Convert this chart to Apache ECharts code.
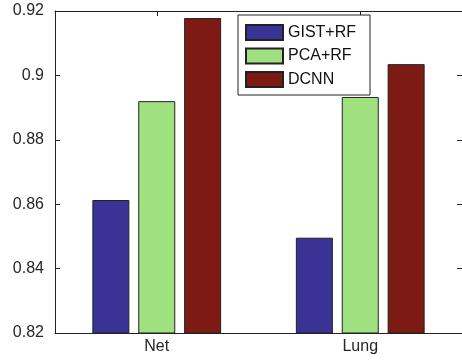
<!DOCTYPE html>
<html>
<head>
<meta charset="utf-8">
<script src="https://cdn.jsdelivr.net/npm/echarts@6/dist/echarts.min.js"></script>
<style>html,body{margin:0;padding:0;background:#fff;}#c{width:462px;height:361px;}</style>
</head>
<body>
<div id="c"></div>
<script>
const categories = ['Net', 'Lung'];
const seriesNames = ['GIST+RF', 'PCA+RF', 'DCNN'];
const gistRF = [0.8613, 0.8496];
const pcaRF = [0.8920, 0.8933];
const dcnn = [0.9178, 0.9035];
const seriesColors = ['#3b3296', '#a0e17f', '#7e1a14'];
const yMin = 0.82, yMax = 0.92, yStep = 0.02;

const chart = echarts.init(document.getElementById('c'));
const font = 'Liberation Sans, Arial, sans-serif';
const vals = [gistRF, pcaRF, dcnn];
chart.setOption({
  animation: false,
  backgroundColor: '#fff',
  grid: { left: 55, right: -3, top: 11, bottom: 28 },
  legend: {
    orient: 'vertical', left: 238, top: 15,
    padding: [9, 14, 7, 7],
    icon: 'rect',
    itemWidth: 37, itemHeight: 15, itemGap: 6.5,
    borderColor: '#222', borderWidth: 1, backgroundColor: '#fff',
    textStyle: { fontFamily: font, fontSize: 16, lineHeight: 15, color: '#111' },
    data: seriesNames
  },
  xAxis: [
    { type: 'category', data: categories, position: 'bottom',
      axisLine: { lineStyle: { color: '#222', width: 1 } },
      axisTick: { show: true, inside: true, alignWithLabel: true, length: 5, lineStyle: { color: '#222' } },
      axisLabel: { fontFamily: font, fontSize: 16, color: '#262626', margin: 6 } },
    { type: 'category', data: categories, position: 'top',
      axisLine: { show: true, onZero: false, lineStyle: { color: '#222', width: 1 } },
      axisTick: { show: true, inside: true, alignWithLabel: true, length: 5, lineStyle: { color: '#222' } },
      axisLabel: { show: false } }
  ],
  yAxis: [
    { type: 'value', min: yMin, max: yMax, interval: yStep, position: 'left',
      axisLine: { show: true, lineStyle: { color: '#222', width: 1 } },
      axisTick: { show: true, inside: true, length: 5, lineStyle: { color: '#222' } },
      splitLine: { show: false },
      axisLabel: { fontFamily: font, fontSize: 16, color: '#262626', margin: 11 } },
    { type: 'value', min: yMin, max: yMax, interval: yStep, position: 'right',
      axisLine: { show: true, lineStyle: { color: '#222', width: 1 } },
      axisTick: { show: true, inside: true, length: 5, lineStyle: { color: '#222' } },
      splitLine: { show: false },
      axisLabel: { show: false } }
  ],
  series: seriesNames.map((n, i) => ({
    name: n, type: 'bar', data: vals[i], barWidth: 37, barGap: '24%',
    itemStyle: { color: seriesColors[i], borderColor: '#222', borderWidth: 1 }
  }))
});
</script>
</body>
</html>
